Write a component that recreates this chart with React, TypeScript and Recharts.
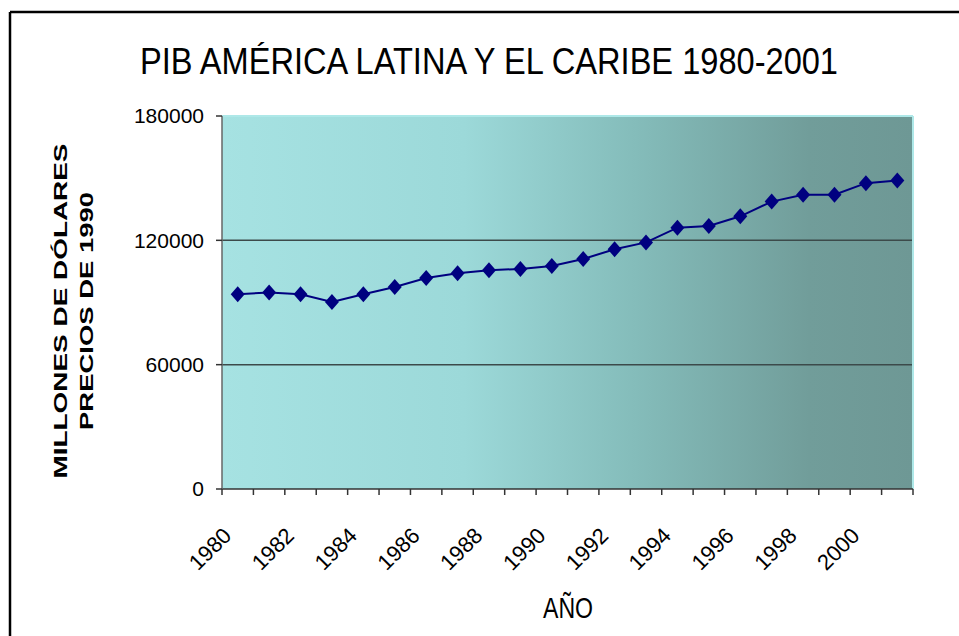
import React from "react";
import {
  LineChart,
  Line,
  XAxis,
  YAxis,
  CartesianGrid,
  ReferenceLine,
} from "recharts";

// GDP of Latin America and the Caribbean, millions of 1990 dollars
const years = [
  1980, 1981, 1982, 1983, 1984, 1985, 1986, 1987, 1988, 1989, 1990,
  1991, 1992, 1993, 1994, 1995, 1996, 1997, 1998, 1999, 2000, 2001,
];
const gdp = [
  94000, 94800, 94000, 90300, 94000, 97500, 101800, 104100, 105600, 106200, 107600,
  111000, 115700, 119000, 126100, 126900, 131600, 138700, 142000, 142000, 147600, 148900,
];
const yearLabels = [1980, 1982, 1984, 1986, 1988, 1990, 1992, 1994, 1996, 1998, 2000];
const yTicks = [0, 60000, 120000, 180000];
const gridValues = [60000, 120000];

// tick marks sit between categories, like Excel
const edges = years.map((y) => y - 0.5).concat(years[years.length - 1] + 0.5);
const xDomain = [edges[0], edges[edges.length - 1]];

const data = years.map((year, i) => ({ year, gdp: gdp[i] }));

const FONT = "'Liberation Sans', Arial, sans-serif";

const renderDiamond = (props: any) => {
  const { cx, cy, index } = props;
  if (cx == null || cy == null) return <g key={index} />;
  return (
    <polygon
      key={index}
      points={`${cx},${cy - 8} ${cx + 7},${cy} ${cx},${cy + 8} ${cx - 7},${cy}`}
      fill="#000080"
    />
  );
};

const EmptyTick = () => <g />;

const YearTick = (props: any) => {
  const { x, y, payload } = props;
  const tx = x - 5;
  const ty = y + 38;
  return (
    <text
      x={tx}
      y={ty}
      transform={`rotate(-45, ${tx}, ${ty})`}
      textAnchor="end"
      fontSize={22}
      fontFamily={FONT}
      fill="#000"
    >
      {payload.value}
    </text>
  );
};

const App: React.FC = () => {
  return (
    <div
      style={{
        position: "absolute",
        left: 0,
        top: 0,
        width: 959,
        height: 636,
        background: "#fff",
        overflow: "hidden",
      }}
    >
      <LineChart
        width={959}
        height={636}
        data={data}
        margin={{ top: 116, right: 46, bottom: 37, left: 0 }}
      >
        <defs>
          <linearGradient id="plotBg" x1="0" y1="0" x2="1" y2="0">
            <stop offset="0%" stopColor="#a6e2e2" />
            <stop offset="35%" stopColor="#9cd9d9" />
            <stop offset="60%" stopColor="#84bcba" />
            <stop offset="85%" stopColor="#719d9a" />
            <stop offset="100%" stopColor="#6e9895" />
          </linearGradient>
        </defs>
        <CartesianGrid
          xAxisId="edges"
          vertical={false}
          horizontalValues={gridValues}
          fill="url(#plotBg)"
          fillOpacity={1}
          stroke="#3c4a4a"
          strokeWidth={1.5}
        />
        <ReferenceLine xAxisId="edges" y={180000} stroke="#aee8e8" strokeWidth={2} />
        <ReferenceLine xAxisId="edges" x={xDomain[1]} stroke="#aee8e8" strokeWidth={2} />
        <XAxis
          xAxisId="edges"
          type="number"
          dataKey="year"
          domain={xDomain}
          ticks={edges}
          interval={0}
          tick={<EmptyTick />}
          tickSize={6}
          height={10}
          allowDataOverflow
          axisLine={{ stroke: "#333", strokeWidth: 1.5 }}
          tickLine={{ stroke: "#333", strokeWidth: 1.5 }}
        />
        <XAxis
          xAxisId="labels"
          type="number"
          dataKey="year"
          domain={xDomain}
          ticks={yearLabels}
          interval={0}
          height={100}
          tickSize={0}
          tickMargin={0}
          allowDataOverflow
          axisLine={false}
          tickLine={false}
          tick={<YearTick />}
        />
        <YAxis
          type="number"
          domain={[0, 180000]}
          ticks={yTicks}
          interval={0}
          width={222}
          tickSize={6}
          tickMargin={12}
          axisLine={{ stroke: "#666", strokeWidth: 1.5 }}
          tickLine={{ stroke: "#333", strokeWidth: 1.5 }}
          tick={{ fontSize: 21, fill: "#000", fontFamily: FONT }}
        />
        <Line
          xAxisId="edges"
          type="linear"
          dataKey="gdp"
          stroke="#000080"
          strokeWidth={2}
          dot={renderDiamond}
          activeDot={false}
          isAnimationActive={false}
        />
      </LineChart>
      <svg
        width={959}
        height={636}
        style={{ position: "absolute", left: 0, top: 0, pointerEvents: "none" }}
      >
        <line x1={10} y1={12} x2={959} y2={12} stroke="#000" strokeWidth={2.5} />
        <line x1={10} y1={12} x2={10} y2={636} stroke="#000" strokeWidth={2.5} />
        <text
          x={489}
          y={74}
          textAnchor="middle"
          fontSize={37}
          fontFamily={FONT}
          textLength={698}
          lengthAdjust="spacingAndGlyphs"
          fill="#000"
        >
          PIB AMÉRICA LATINA Y EL CARIBE 1980-2001
        </text>
        <text
          x={67}
          y={311}
          transform="rotate(-90, 67, 311)"
          textAnchor="middle"
          fontSize={18}
          fontWeight="bold"
          fontFamily={FONT}
          textLength={335}
          lengthAdjust="spacingAndGlyphs"
          fill="#000"
        >
          MILLONES DE DÓLARES
        </text>
        <text
          x={93}
          y={311}
          transform="rotate(-90, 93, 311)"
          textAnchor="middle"
          fontSize={18}
          fontWeight="bold"
          fontFamily={FONT}
          textLength={238}
          lengthAdjust="spacingAndGlyphs"
          fill="#000"
        >
          PRECIOS DE 1990
        </text>
        <text
          x={568}
          y={618}
          textAnchor="middle"
          fontSize={29}
          fontFamily={FONT}
          textLength={50}
          lengthAdjust="spacingAndGlyphs"
          fill="#000"
        >
          AÑO
        </text>
      </svg>
    </div>
  );
};

export default App;
